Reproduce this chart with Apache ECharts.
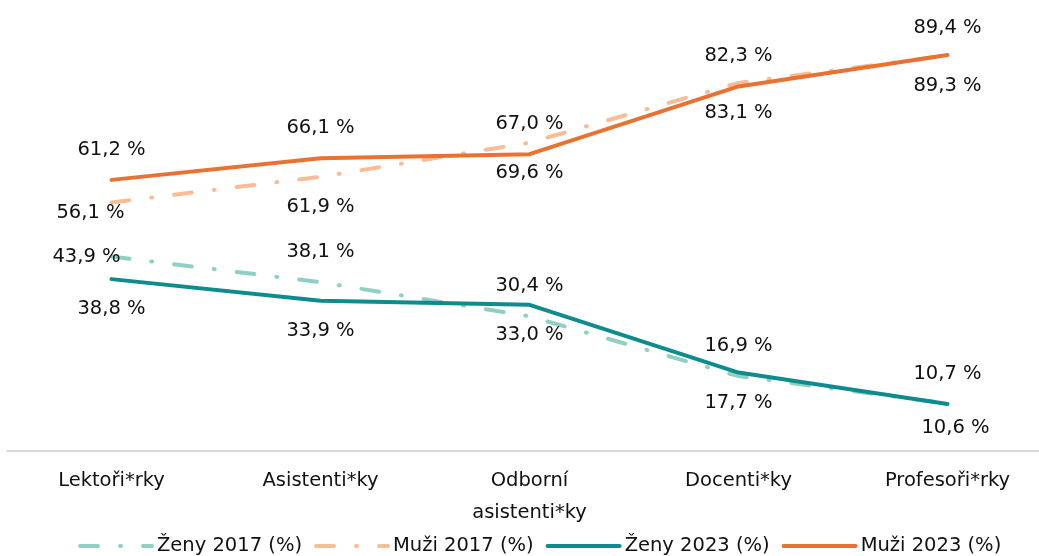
<!DOCTYPE html>
<html>
<head>
<meta charset="utf-8">
<script src="https://cdn.jsdelivr.net/npm/echarts@6/dist/echarts.min.js"></script>
<style>
  html, body { margin: 0; padding: 0; background: #fff; }
  #chart { width: 1039px; height: 556px; }
</style>
</head>
<body>
<div id="chart"></div>
<script>
// kategorie
var categories = ['Lektoři*rky', 'Asistenti*ky', 'Odborní\nasistenti*ky', 'Docenti*ky', 'Profesoři*rky']

var zeny2017 = [43.9, 38.1, 30.4, 16.9, 10.7]
var muzi2017 = [56.1, 61.9, 69.6, 83.1, 89.3]
var zeny2023 = [38.8, 33.9, 33.0, 17.7, 10.6]
var muzi2023 = [61.2, 66.1, 67.0, 82.3, 89.4]

var FONT = 'DejaVu Sans'
var FS = 19.5
var dashDot = [18, 22, 1, 22]

function fmt(p) {
  return p.value.toFixed(1).replace('.', ',') + ' %'
}

// a few labels are nudged, as in the original
function withOffsets(values, offsets) {
  return values.map(function (v, i) {
    if (!offsets[i]) return v
    return { value: v, label: { offset: offsets[i] } }
  })
}

function lineSeries(name, data, color, dashed, pos) {
  return {
    name: name,
    type: 'line',
    data: data,
    symbol: 'circle',
    symbolSize: 0.1,
    itemStyle: { color: color },
    lineStyle: {
      color: color,
      width: 4,
      type: dashed ? dashDot : 'solid',
      cap: 'round',
      join: 'round'
    },
    label: {
      show: true,
      position: pos,
      distance: 20,
      formatter: fmt,
      color: '#111',
      fontFamily: FONT,
      fontSize: FS
    },
    emphasis: { disabled: true }
  }
}

var chart = echarts.init(document.getElementById('chart'))
chart.setOption({
  animation: false,
  grid: { left: 7, top: 8, width: 1045, bottom: 105, outerBoundsMode: 'none' },
  xAxis: {
    type: 'category',
    data: categories,
    axisLine: { lineStyle: { color: '#d9d9d9', width: 2 } },
    axisTick: { show: false },
    axisLabel: {
      color: '#111',
      fontFamily: FONT,
      fontSize: FS,
      lineHeight: 32,
      margin: 14,
      interval: 0
    }
  },
  yAxis: {
    type: 'value',
    min: 0,
    max: 100,
    show: false,
    splitLine: { show: false }
  },
  legend: {
    top: 531,
    left: 73,
    itemWidth: 72,
    itemHeight: 14,
    itemGap: 12,
    itemStyle: { opacity: 0 },
    lineStyle: { width: 4 },
    textStyle: { color: '#111', fontFamily: FONT, fontSize: FS },
    data: ['Ženy 2017 (%)', 'Muži 2017 (%)', 'Ženy 2023 (%)', 'Muži 2023 (%)']
  },
  series: [
    lineSeries('Ženy 2017 (%)', withOffsets(zeny2017, [[-25, 30]]), '#8fd0c4', true, 'top'),
    lineSeries('Muži 2017 (%)', withOffsets(muzi2017, [[-21, -20]]), '#f8bd96', true, 'bottom'),
    lineSeries('Ženy 2023 (%)', withOffsets(zeny2023, [null, null, null, null, [8, -6]]), '#0f8b8d', false, 'bottom'),
    lineSeries('Muži 2023 (%)', withOffsets(muzi2023, [null, null, null, null, [0, 3]]), '#e97132', false, 'top')
  ]
})
</script>
</body>
</html>
